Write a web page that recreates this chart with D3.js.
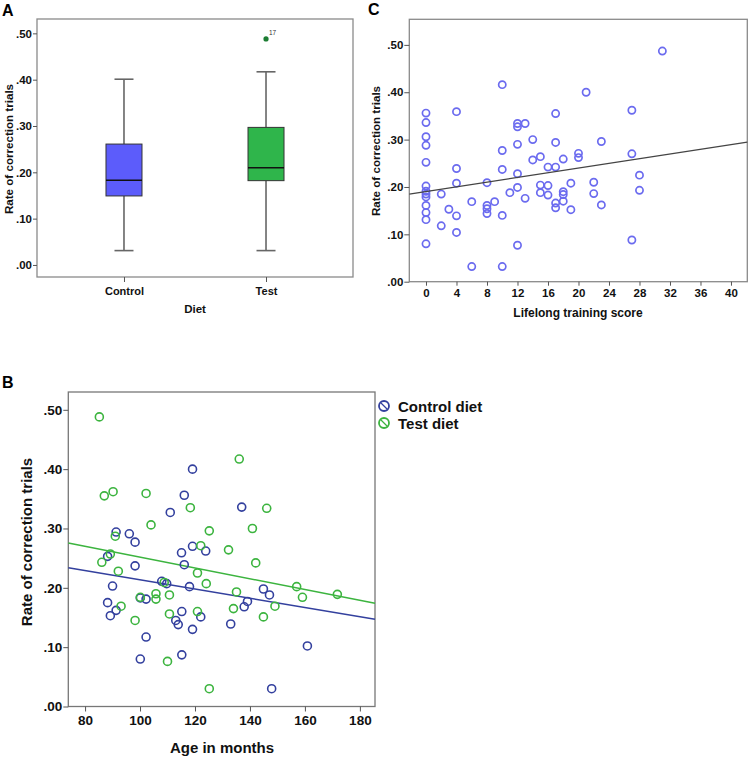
<!DOCTYPE html>
<html>
<head>
<meta charset="utf-8">
<script src="https://cdn.jsdelivr.net/npm/d3@7"></script>
<style>
  body { margin: 0; background: #fff; }
  svg { font-family: "Liberation Sans", Arial, sans-serif; font-weight: bold; }
  .axis path, .axis line { stroke: #555; }
  .axis text { fill: #111; font-weight: bold; }
</style>
</head>
<body>
<div class="chart"></div>
<script>
// panel A: box plot summary per diet group
const DIET_GROUPS = ["Control", "Test"];
const BOX_MIN = [0.031, 0.031];
const BOX_Q1 = [0.149, 0.182];
const BOX_MEDIAN = [0.183, 0.210];
const BOX_Q3 = [0.261, 0.297];
const BOX_MAX = [0.401, 0.417];
const OUTLIER_GROUP = ["Test"];
const OUTLIER_VALUE = [0.488];
const OUTLIER_LABEL = ["17"];

// panel C: lifelong training score vs rate
const TRAINING_SCORE = [
  0, 0, 0, 0, 0, 0, 0, 0, 0, 0, 0, 0, 0,
  2, 2, 3, 4, 4, 4, 4, 4, 6, 6, 8, 8, 8, 8, 9,
  10, 10, 10, 10, 10, 11, 12, 12, 12, 12, 12, 12,
  13, 13, 14, 14, 15, 15, 15, 16, 16, 16,
  17, 17, 17, 17, 17, 18, 18, 18, 18, 19, 19, 20, 20, 21,
  22, 22, 23, 23, 27, 27, 27, 28, 28, 31
];
const TRAINING_RATE = [
  0.356, 0.336, 0.306, 0.288, 0.252, 0.202, 0.191, 0.185, 0.179, 0.161, 0.146, 0.131, 0.080,
  0.185, 0.118, 0.153, 0.359, 0.239, 0.208, 0.139, 0.104, 0.169, 0.032, 0.209, 0.161, 0.154, 0.144, 0.169,
  0.416, 0.277, 0.237, 0.140, 0.032, 0.188, 0.334, 0.327, 0.290, 0.228, 0.199, 0.077,
  0.334, 0.176, 0.300, 0.257, 0.264, 0.204, 0.188, 0.242, 0.203, 0.183,
  0.355, 0.294, 0.242, 0.166, 0.156, 0.259, 0.190, 0.184, 0.170, 0.208, 0.152, 0.271, 0.262, 0.400,
  0.210, 0.186, 0.296, 0.162, 0.362, 0.270, 0.088, 0.225, 0.193, 0.487
];
const TRAINING_FIT = [0.1904, 0.00247]; // intercept, slope

// panel B: age in months vs rate, by diet
const CONTROL_AGE = [
  119.1, 116.1, 137.0, 111.0, 91.3, 96.1, 98.2, 119.1, 123.9, 115.1,
  88.2, 116.1, 98.2, 107.9, 109.7, 90.0, 118.0, 144.9, 147.1, 100.1,
  102.2, 88.2, 139.1, 137.9, 115.2, 91.3, 89.2, 122.1, 113.0, 113.9,
  133.0, 119.1, 102.2, 160.9, 100.1, 115.2, 147.9
];
const CONTROL_RATE = [
  0.400, 0.356, 0.336, 0.327, 0.294, 0.291, 0.277, 0.270, 0.262, 0.259,
  0.253, 0.239, 0.237, 0.211, 0.207, 0.203, 0.202, 0.198, 0.188, 0.183,
  0.181, 0.175, 0.177, 0.168, 0.160, 0.162, 0.153, 0.151, 0.145, 0.138,
  0.139, 0.130, 0.117, 0.102, 0.080, 0.087, 0.030
];
const TEST_AGE = [
  85.2, 136.1, 87.0, 90.2, 102.2, 118.3, 146.1, 104.0, 140.9, 125.2,
  91.0, 122.1, 132.2, 89.2, 86.1, 142.1, 92.1, 120.9, 124.1, 157.0,
  171.8, 135.1, 159.1, 105.8, 110.7, 105.8, 100.1, 93.1, 149.1, 134.0,
  120.9, 110.7, 98.2, 144.9, 110.0, 125.2, 108.8
];
const TEST_RATE = [
  0.488, 0.417, 0.355, 0.362, 0.359, 0.335, 0.334, 0.306, 0.300, 0.296,
  0.287, 0.271, 0.264, 0.257, 0.243, 0.242, 0.228, 0.225, 0.207, 0.202,
  0.189, 0.193, 0.184, 0.190, 0.188, 0.181, 0.184, 0.169, 0.169, 0.165,
  0.160, 0.156, 0.145, 0.151, 0.076, 0.030, 0.209
];
const CONTROL_FIT = [0.2916, -0.00078];
const TEST_FIT = [0.3427, -0.00091];

const BLUE_BOX = "#5c5cfb";
const GREEN_BOX = "#2fb54b";
const C_POINT = "#6b6bef";
const B_BLUE = "#33409e";
const B_GREEN = "#3cb43f";

const W = 750, H = 758;
const rateFormat = d => d3.format(".2f")(d).replace(/^0/, "");

const svg = d3.select(".chart").append("svg")
  .attr("width", W).attr("height", H);
svg.append("rect").attr("width", W).attr("height", H).attr("fill", "#fff");

// small helper for the panel letters
function panelLabel(txt, x, y) {
  svg.append("text").attr("x", x).attr("y", y)
    .attr("font-size", 16).attr("fill", "#000").text(txt);
}

function frame(g, x0, x1, y0, y1, color) {
  g.append("rect")
    .attr("x", x0).attr("y", y0)
    .attr("width", x1 - x0).attr("height", y1 - y0)
    .attr("fill", "none").attr("stroke", color).attr("stroke-width", 1.3);
}

function yTitle(g, txt, x, y, size) {
  g.append("text")
    .attr("transform", `translate(${x},${y}) rotate(-90)`)
    .attr("text-anchor", "middle").attr("dominant-baseline", "central")
    .attr("font-size", size).attr("fill", "#111").text(txt);
}

function xTitle(g, txt, x, y, size) {
  g.append("text").attr("x", x).attr("y", y)
    .attr("text-anchor", "middle").attr("dominant-baseline", "central")
    .attr("font-size", size).attr("fill", "#111").text(txt);
}

// ---------- panel A ----------
{
  const L = 37, R = 353, T = 19, B = 277;
  const g = svg.append("g");
  const x = d3.scalePoint().domain(DIET_GROUPS).range([L, R]).padding(0.6125);
  const y = d3.scaleLinear().domain([-0.026, 0.531]).range([B, T]);

  frame(g, L, R, T, B, "#8a8a8a");

  g.append("g").attr("class", "axis").attr("transform", `translate(${L},0)`)
    .call(d3.axisLeft(y).tickValues([0, .1, .2, .3, .4, .5]).tickFormat(rateFormat).tickSize(4).tickPadding(1))
    .call(a => a.select(".domain").remove())
    .selectAll("text").attr("font-size", 11.5);
  g.append("g").attr("class", "axis").attr("transform", `translate(0,${B})`)
    .call(d3.axisBottom(x).tickSize(5).tickPadding(5))
    .call(a => a.select(".domain").remove())
    .selectAll("text").attr("font-size", 11);

  const boxW = 36, capW = 19;
  const fills = [BLUE_BOX, GREEN_BOX];
  DIET_GROUPS.forEach(function (grp, i) {
    const cx = x(grp);
    // whiskers
    g.append("line").attr("x1", cx).attr("x2", cx)
      .attr("y1", y(BOX_MIN[i])).attr("y2", y(BOX_Q1[i]))
      .attr("stroke", "#666").attr("stroke-width", 1.6);
    g.append("line").attr("x1", cx).attr("x2", cx)
      .attr("y1", y(BOX_MAX[i])).attr("y2", y(BOX_Q3[i]))
      .attr("stroke", "#666").attr("stroke-width", 1.6);
    [BOX_MIN[i], BOX_MAX[i]].forEach(v => {
      g.append("line").attr("x1", cx - capW / 2).attr("x2", cx + capW / 2)
        .attr("y1", y(v)).attr("y2", y(v))
        .attr("stroke", "#666").attr("stroke-width", 1.6);
    });
    g.append("rect")
      .attr("x", cx - boxW / 2).attr("width", boxW)
      .attr("y", y(BOX_Q3[i])).attr("height", y(BOX_Q1[i]) - y(BOX_Q3[i]))
      .attr("fill", fills[i]).attr("stroke", "#333").attr("stroke-width", 1);
    g.append("line").attr("x1", cx - boxW / 2).attr("x2", cx + boxW / 2)
      .attr("y1", y(BOX_MEDIAN[i])).attr("y2", y(BOX_MEDIAN[i]))
      .attr("stroke", "#111").attr("stroke-width", 1.6);
  });

  OUTLIER_VALUE.forEach(function (v, i) {
    const cx = x(OUTLIER_GROUP[i]);
    g.append("circle").attr("cx", cx).attr("cy", y(v)).attr("r", 2.6).attr("fill", "#1d7d33");
    g.append("text").attr("x", cx + 3).attr("y", y(v) - 4)
      .attr("font-size", 6.5).attr("font-weight", "normal").attr("fill", "#333").text(OUTLIER_LABEL[i]);
  });

  yTitle(g, "Rate of correction trials", 8.5, 149, 11.6);
  xTitle(g, "Diet", 195, 309, 11.5);
  panelLabel("A", 2, 16);
}

// ---------- panel C ----------
{
  const L = 409.3, R = 747.3, T = 19.3, B = 281.7;
  const g = svg.append("g");
  const x = d3.scaleLinear().domain([-2.19, 42.14]).range([L, R]);
  const y = d3.scaleLinear().domain([0, 0.554]).range([B, T]);

  frame(g, L, R, T, B, "#8a8a8a");

  g.append("g").attr("class", "axis").attr("transform", `translate(${L},0)`)
    .call(d3.axisLeft(y).tickValues([0, .1, .2, .3, .4, .5]).tickFormat(rateFormat).tickSize(5).tickPadding(1))
    .call(a => a.select(".domain").remove())
    .selectAll("text").attr("font-size", 11.5);
  g.append("g").attr("class", "axis").attr("transform", `translate(0,${B})`)
    .call(d3.axisBottom(x).tickValues(d3.range(0, 41, 4)).tickSize(4).tickPadding(3))
    .call(a => a.select(".domain").remove())
    .selectAll("text").attr("font-size", 11.5);

  g.append("g").selectAll("circle")
    .data(TRAINING_SCORE.map((s, i) => [s, TRAINING_RATE[i]]))
    .join("circle")
    .attr("cx", d => x(d[0])).attr("cy", d => y(d[1]))
    .attr("r", 3.6).attr("fill", "none")
    .attr("stroke", C_POINT).attr("stroke-width", 1.7);

  const xd = x.domain();
  g.append("line")
    .attr("x1", x(xd[0])).attr("y1", y(TRAINING_FIT[0] + TRAINING_FIT[1] * xd[0]))
    .attr("x2", x(xd[1])).attr("y2", y(TRAINING_FIT[0] + TRAINING_FIT[1] * xd[1]))
    .attr("stroke", "#444").attr("stroke-width", 1.2);

  yTitle(g, "Rate of correction trials", 375.5, 151, 11.6);
  xTitle(g, "Lifelong training score", 578, 313, 12);
  panelLabel("C", 368, 15);
}

// ---------- panel B ----------
{
  const L = 68.3, R = 375, T = 392, B = 706.5;
  const g = svg.append("g");
  const x = d3.scaleLinear().domain([73.9, 185.5]).range([L, R]);
  const y = d3.scaleLinear().domain([0, 0.530]).range([B, T]);

  frame(g, L, R, T, B, "#777");

  g.append("g").attr("class", "axis").attr("transform", `translate(${L},0)`)
    .call(d3.axisLeft(y).tickValues([0, .1, .2, .3, .4, .5]).tickFormat(rateFormat).tickSize(5).tickPadding(1))
    .call(a => a.select(".domain").remove())
    .selectAll("text").attr("font-size", 13.5);
  g.append("g").attr("class", "axis").attr("transform", `translate(0,${B})`)
    .call(d3.axisBottom(x).tickValues(d3.range(80, 181, 20)).tickSize(5).tickPadding(4))
    .call(a => a.select(".domain").remove())
    .selectAll("text").attr("font-size", 13.5);

  const series = [
    { ages: CONTROL_AGE, rates: CONTROL_RATE, fit: CONTROL_FIT, color: B_BLUE },
    { ages: TEST_AGE, rates: TEST_RATE, fit: TEST_FIT, color: B_GREEN },
  ];
  const xd = x.domain();
  series.forEach(function (s) {
    g.append("line")
      .attr("x1", x(xd[0])).attr("y1", y(s.fit[0] + s.fit[1] * xd[0]))
      .attr("x2", x(xd[1])).attr("y2", y(s.fit[0] + s.fit[1] * xd[1]))
      .attr("stroke", s.color).attr("stroke-width", 1.5);
  });
  series.forEach(function (s) {
    g.append("g").selectAll("circle")
      .data(s.ages.map((a, i) => [a, s.rates[i]]))
      .join("circle")
      .attr("cx", d => x(d[0])).attr("cy", d => y(d[1]))
      .attr("r", 4).attr("fill", "none")
      .attr("stroke", s.color).attr("stroke-width", 1.6);
  });

  // legend
  const legendNames = ["Control diet", "Test diet"];
  const legend = g.append("g").attr("transform", "translate(384,406)");
  legendNames.forEach(function (name, i) {
    const row = legend.append("g").attr("transform", `translate(0,${i * 17})`);
    row.append("circle").attr("r", 5).attr("fill", "none")
      .attr("stroke", series[i].color).attr("stroke-width", 1.8);
    row.append("line").attr("x1", -3.5).attr("y1", -3.5).attr("x2", 4).attr("y2", 4)
      .attr("stroke", series[i].color).attr("stroke-width", 1.2);
    row.append("text").attr("x", 14).attr("y", 0)
      .attr("dominant-baseline", "central")
      .attr("font-size", 15).attr("fill", "#111").text(name);
  });

  yTitle(g, "Rate of correction trials", 26.5, 542, 15);
  xTitle(g, "Age in months", 222, 747, 15);
  panelLabel("B", 2, 388);
}
</script>
</body>
</html>
